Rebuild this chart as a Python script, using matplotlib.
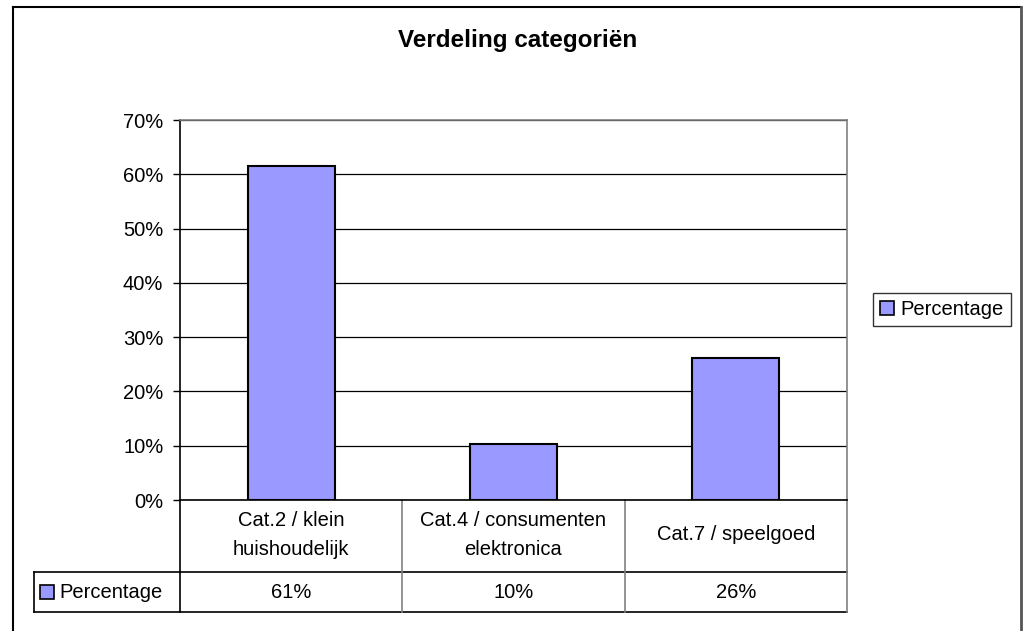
import matplotlib.pyplot as plt
from matplotlib.lines import Line2D
from matplotlib.patches import Rectangle
import matplotlib.transforms as mtransforms

# Data
categories = ['Cat.2 / klein\nhuishoudelijk', 'Cat.4 / consumenten\nelektronica', 'Cat.7 / speelgoed']
values = [61.5, 10.3, 26.1]
value_labels = ['61%', '10%', '26%']
series_name = 'Percentage'
yticks = [0, 10, 20, 30, 40, 50, 60, 70]

plt.rcParams['font.family'] = ['Liberation Sans', 'DejaVu Sans']
bar_color = '#9999FF'
fs = 14.5

W, H = 1023, 631
fig = plt.figure(figsize=(W / 100, H / 100), dpi=100)


def px(x0, y0, x1, y1):
    # pixel box (top-left origin) -> figure fraction rect
    return [x0 / W, 1 - y1 / H, (x1 - x0) / W, (y1 - y0) / H]


ax = fig.add_axes(px(180, 120, 847, 500))
x = list(range(len(categories)))
ax.bar(x, values, width=0.39, color=bar_color, edgecolor='black', linewidth=1.5, zorder=3)
ax.set_xlim(-0.5, len(categories) - 0.5)
ax.set_ylim(0, 70)
ax.set_yticks(yticks)
ax.set_yticklabels([f'{t}%' for t in yticks], fontsize=fs)
ax.set_xticks([])
ax.tick_params(axis='y', direction='out', length=5, width=1, pad=7)
ax.yaxis.grid(True, color='black', linewidth=0.9)
ax.set_axisbelow(True)
for s in ['top', 'right']:
    ax.spines[s].set_color('#808080')
    ax.spines[s].set_linewidth(1.2)
ax.spines['left'].set_linewidth(1.2)
ax.spines['bottom'].set_linewidth(1.2)

# Data table below the plot area (x in data units, y in axes fraction)
trans = mtransforms.blended_transform_factory(ax.transData, ax.transAxes)
col_px = 667 / len(categories)
row1 = -72 / 380
row2 = -112 / 380
left_cell = -0.5 - (180 - 34) / col_px
kw = dict(transform=trans, clip_on=False, color='black', linewidth=1.2)
ax.add_line(Line2D([-0.5, len(categories) - 0.5], [row1, row1], **kw))
ax.add_line(Line2D([left_cell, len(categories) - 0.5], [row2, row2], **kw))
ax.add_line(Line2D([left_cell, -0.5], [row1, row1], **kw))
ax.add_line(Line2D([left_cell, left_cell], [row1, row2], **kw))
ax.add_line(Line2D([-0.5, -0.5], [0, row2], **kw))
for i in range(len(categories)):
    ax.add_line(Line2D([i + 0.5, i + 0.5], [0, row2], transform=trans, clip_on=False,
                       color='#808080', linewidth=1.2))
    ax.text(i, row1 / 2 + 1 / 380, categories[i], transform=trans, ha='center', va='center',
            fontsize=fs, linespacing=1.62)
    ax.text(i, (row1 + row2) / 2, value_labels[i], transform=trans, ha='center',
            va='center', fontsize=fs)

# legend key in the table
ax.add_patch(Rectangle((left_cell + 6 / col_px, (row1 + row2) / 2 - 7 / 380),
                       14 / col_px, 14 / 380, transform=trans, clip_on=False,
                       facecolor=bar_color, edgecolor='black', linewidth=1.2))
ax.text(left_cell + 25 / col_px, (row1 + row2) / 2, series_name,
        transform=trans, ha='left', va='center', fontsize=fs)

# Title
fig.text(518 / W, 1 - 41 / H, 'Verdeling categoriën', ha='center', va='center',
         fontsize=17.5, fontweight='bold')

# Legend
handle = Rectangle((0, 0), 1, 1, facecolor=bar_color, edgecolor='black', linewidth=1.2)
leg = fig.legend([handle], [series_name], loc='center',
                 bbox_to_anchor=(942 / W, 1 - 309.5 / H), fontsize=fs,
                 frameon=True, fancybox=False, edgecolor='black',
                 handlelength=0.7, handleheight=0.7, handletextpad=0.3,
                 borderpad=0.35, borderaxespad=0)
leg.get_frame().set_linewidth(1.0)

# Outer chart border
bkw = dict(color='black', linewidth=1.5, transform=fig.transFigure)
fig.add_artist(Line2D([12.5 / W, 12.5 / W], [0, 1 - 7 / H], **bkw))
fig.add_artist(Line2D([12.5 / W, 1021 / W], [1 - 7 / H, 1 - 7 / H], **bkw))
fig.add_artist(Line2D([1021 / W, 1021 / W], [0, 1 - 7 / H], color='#555555',
                      linewidth=2, transform=fig.transFigure))

fig.savefig('out.png', dpi=100)
